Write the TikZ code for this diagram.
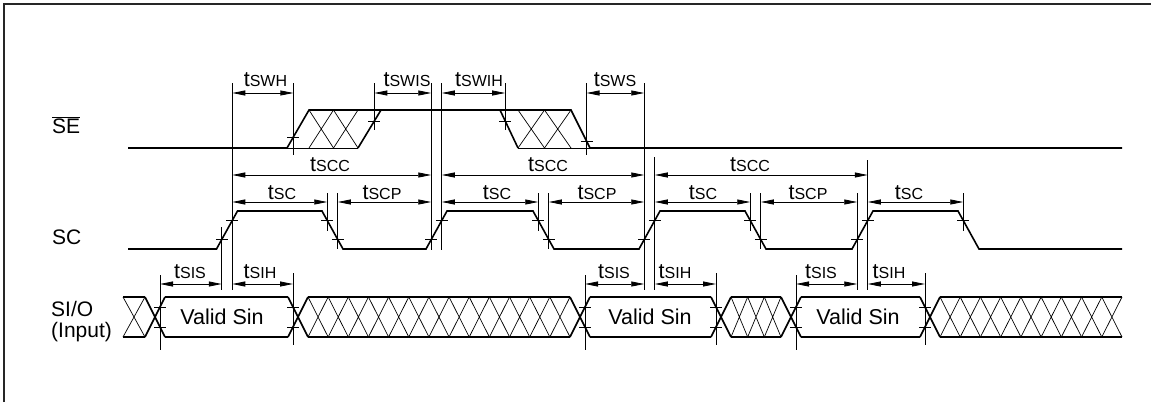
\documentclass[tikz,border=0pt]{standalone}
\usepackage{fontspec}
\setmainfont{Liberation Sans}
\usetikzlibrary{arrows.meta}
\newcommand{\ts}[1]{t{\fontsize{16}{18}\selectfont #1}}
\begin{document}
\begin{tikzpicture}[x=1pt,y=-1pt,
  sig/.style={line width=1.6pt, line join=miter},
  thinsig/.style={line width=1pt},
  hatch/.style={line width=0.7pt},
  vline/.style={line width=0.8pt},
  tickm/.style={line width=0.8pt},
  dim/.style={line width=0.8pt, {Triangle[length=13pt,width=5pt]}-{Triangle[length=13pt,width=5pt]}},
  lbl/.style={anchor=base, inner sep=0pt, font=\fontsize{21.5}{24}\selectfont},
  sname/.style={anchor=base west, inner sep=0pt, font=\fontsize{21}{24}\selectfont}]
\useasboundingbox (0,0) rectangle (1151,402);
\draw[line width=1.5pt, black!85] (4,402) -- (4,4) -- (1151,4);

% signal names
\node[sname] (nSE) at (52,133) {$\overline{\hbox{SE}}$};
\node[sname] (nSC) at (52,244) {SC};
\node[sname] (nSIO) at (51,316) {SI/O};
\node[sname] (nIn) at (51,337) {(Input)};

% SE waveform
\draw[sig] (128,148) -- (287,148) -- (309,110) -- (571,110) -- (590,148) -- (1122,148);
\draw[sig] (358,148) -- (381,110);
\draw[sig] (500,110) -- (518,148);
\draw[thinsig] (287,148) -- (358,148);
\draw[thinsig] (518,148) -- (590,148);
\foreach \a/\p in {309/24.5, 333.5/24.5, 518/26.5, 544.5/26.5}
  \draw[hatch] (\a,110) -- ({\a+\p},148) (\a,148) -- ({\a+\p},110);

% SC waveform
\draw[sig] (128,249) -- (216.5,249) -- (237.5,211) -- (322,211) -- (343,249) -- (426,249) -- (447,211) -- (533,211) -- (554,249) -- (639,249) -- (660,211) -- (745,211) -- (766,249) -- (852,249) -- (873,211) -- (958,211) -- (979,249) -- (1122,249);

% SI/O waveform
\foreach \a/\b in {165/288, 590/711, 801/920, 123/145, 308/570, 731/781, 940/1122}
  \draw[sig] (\a,297) -- (\b,297) (\a,337) -- (\b,337);
\foreach \c in {155, 298, 580, 721, 791, 930}
  \draw[sig] ({\c-10},297) -- ({\c+10},337) ({\c-10},337) -- ({\c+10},297);
\foreach \a/\b/\n in {123/145/1, 308/570/13, 731/781/3, 940/1122/9} {
  \pgfmathsetmacro\p{(\b-\a)/\n}
  \foreach \i in {1,...,\n}
    \draw[hatch] ({\a+(\i-1)*\p},297) -- ({\a+\i*\p},337) ({\a+(\i-1)*\p},337) -- ({\a+\i*\p},297);
}
\node[lbl] (v1) at (222,324) {Valid Sin};
\node[lbl] (v2) at (650,324) {Valid Sin};
\node[lbl] (v3) at (858,324) {Valid Sin};

% tick marks
\foreach \x/\y in {221.75/239.5, 232.25/220.5, 327.25/220.5, 337.75/239.5, 431.25/239.5, 441.75/220.5, 538.25/220.5, 548.75/239.5, 644.25/239.5, 654.75/220.5, 750.25/220.5, 760.75/239.5, 857.25/239.5, 867.75/220.5, 963.25/220.5,
  293.4/137, 374.3/121, 505.2/121, 586.5/141,
  160/307, 160/327, 293/307, 293/327, 585/307, 585/327, 716/307, 716/327, 796/307, 796/327, 925/307, 925/327}
  \draw[tickm] ({\x-6},\y) -- ({\x+6},\y);

% reference lines
\foreach \n/\x/\t/\b in {vC/293.4/83/155, vD/374.3/83/130, vG/505.2/83/130, vH/586.5/83/155,
  vA/232.25/83/290, vB/221.75/227/290, vE/431.25/83/250, vF/441.75/83/250,
  vI/644.25/83/290, vJ/654.75/157/290, vK/857.25/193/290, vL/867.75/160/290,
  fa/327.25/193/231, fb/337.75/193/249, fc/538.25/193/231, fd/548.75/193/249,
  fe/750.25/193/231, ff/760.75/193/249, fg/963.25/193/231,
  sa/160/275/350, sb/585/275/350, sc/796/275/350, ha/293/273/345, hb/716/273/345, hc/925/273/345}
  \draw[vline] (\x,\t) coordinate (\n) -- (\x,\b);

\coordinate (ySE) at (0,93);
\coordinate (yCC) at (0,175);
\coordinate (yC) at (0,202);
\coordinate (yI) at (0,284);

% dimension arrows
\draw[dim] (vA |- ySE) -- (vC |- ySE);
\draw[dim] (vD |- ySE) -- (vE |- ySE);
\draw[dim] (vF |- ySE) -- (vG |- ySE);
\draw[dim] (vH |- ySE) -- (vI |- ySE);
\draw[dim] (vA |- yCC) -- (vE |- yCC);
\draw[dim] (vF |- yCC) -- (vI |- yCC);
\draw[dim] (vJ |- yCC) -- (vL |- yCC);
\draw[dim] (vA |- yC) -- (fa |- yC);
\draw[dim] (fb |- yC) -- (vE |- yC);
\draw[dim] (vF |- yC) -- (fc |- yC);
\draw[dim] (fd |- yC) -- (vI |- yC);
\draw[dim] (vJ |- yC) -- (fe |- yC);
\draw[dim] (ff |- yC) -- (vK |- yC);
\draw[dim] (vL |- yC) -- (fg |- yC);
\draw[dim] (sa |- yI) -- (vB |- yI);
\draw[dim] (vA |- yI) -- (ha |- yI);
\draw[dim] (sb |- yI) -- (vI |- yI);
\draw[dim] (vJ |- yI) -- (hb |- yI);
\draw[dim] (sc |- yI) -- (vK |- yI);
\draw[dim] (vL |- yI) -- (hc |- yI);

% labels
\node[lbl] (l1) at (265.5,86) {\ts{SWH}};
\node[lbl] (l2) at (407,86) {\ts{SWIS}};
\node[lbl] (l3) at (479,86) {\ts{SWIH}};
\node[lbl] (l4) at (615,86) {\ts{SWS}};
\node[lbl] (l5) at (330,171) {\ts{SCC}};
\node[lbl] (l6) at (548,171) {\ts{SCC}};
\node[lbl] (l7) at (750,171) {\ts{SCC}};
\node[lbl] (l8) at (282,199) {\ts{SC}};
\node[lbl] (l9) at (382,199) {\ts{SCP}};
\node[lbl] (l10) at (497,199) {\ts{SC}};
\node[lbl] (l11) at (597,199) {\ts{SCP}};
\node[lbl] (l12) at (703,199) {\ts{SC}};
\node[lbl] (l13) at (808,199) {\ts{SCP}};
\node[lbl] (l14) at (909,199) {\ts{SC}};
\node[lbl] (l15) at (190,278) {\ts{SIS}};
\node[lbl] (l16) at (260,278) {\ts{SIH}};
\node[lbl] (l17) at (614,278) {\ts{SIS}};
\node[lbl] (l18) at (675,278) {\ts{SIH}};
\node[lbl] (l19) at (821,278) {\ts{SIS}};
\node[lbl] (l20) at (889,278) {\ts{SIH}};
\end{tikzpicture}
\end{document}
